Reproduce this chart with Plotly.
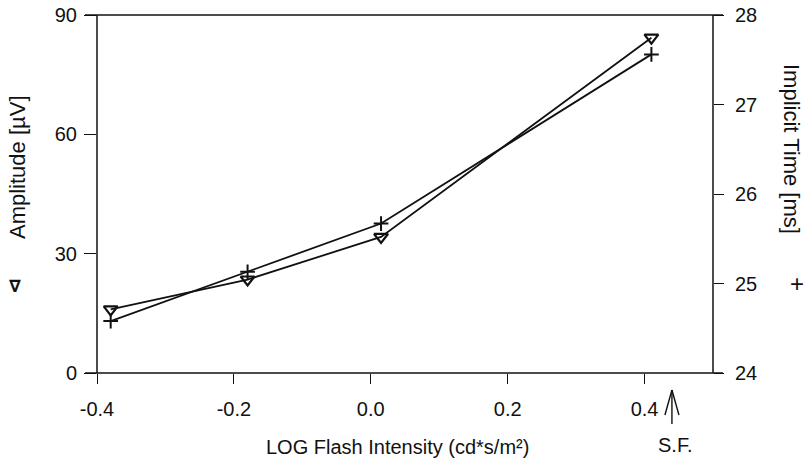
import plotly.graph_objects as go

# ---- data ----
log_intensity = [-0.38, -0.18, 0.015, 0.41]
amplitude_uv = [16.0, 23.5, 34.2, 84.3]
implicit_time_ms = [24.58, 25.13, 25.67, 27.56]

x_ticks = [-0.4, -0.2, 0.0, 0.2, 0.4]
x_tick_labels = ["-0.4", "-0.2", "0.0", "0.2", "0.4"]
amp_ticks = [0, 30, 60, 90]
time_ticks = [24, 25, 26, 27, 28]
sf_x = 0.44

W, H = 810, 461
L, R, T, B = 97, 97, 15, 88
pw, ph = W - L - R, H - T - B

def px(xp):
    return (xp - L) / pw

def py(yp):
    return (H - B - yp) / ph

FONT = "Liberation Sans, Arial, sans-serif"
INK = "#111111"

fig = go.Figure()
fig.add_trace(go.Scatter(
    x=log_intensity, y=amplitude_uv, mode="lines+markers",
    line=dict(color=INK, width=1.8),
    marker=dict(symbol="triangle-down-open", size=12, color=INK, line=dict(width=2.2, color=INK)),
    showlegend=False, yaxis="y", cliponaxis=False))
fig.add_trace(go.Scatter(
    x=log_intensity, y=implicit_time_ms, mode="lines+markers",
    line=dict(color=INK, width=1.8),
    marker=dict(symbol="cross-thin-open", size=10.5, color=INK, line=dict(width=2, color=INK)),
    showlegend=False, yaxis="y2", cliponaxis=False))

tickfont = dict(family=FONT, size=20, color=INK)
fig.update_layout(
    width=W, height=H,
    margin=dict(l=L, r=R, t=T, b=B, autoexpand=False),
    paper_bgcolor="white", plot_bgcolor="white",
    xaxis=dict(range=[-0.4, 0.5], tickvals=x_ticks, ticktext=x_tick_labels,
               showgrid=False, zeroline=False, showline=False, automargin=False,
               ticks="outside", ticklen=10, tickwidth=1.4, tickcolor=INK,
               tickfont=tickfont, ticklabelstandoff=8),
    yaxis=dict(range=[0, 90], tickvals=amp_ticks, showgrid=False, zeroline=False,
               showline=False, automargin=False,
               ticks="outside", ticklen=12, tickwidth=1.4, tickcolor=INK,
               tickfont=tickfont, ticklabelstandoff=3),
    yaxis2=dict(range=[24, 28], tickvals=time_ticks, overlaying="y", side="right",
                showgrid=False, zeroline=False, showline=False, automargin=False,
                ticks="outside", ticklen=10, tickwidth=1.4, tickcolor=INK,
                tickfont=tickfont, ticklabelstandoff=7),
)

lw = 1.5
shapes = [
    dict(type="line", xref="paper", yref="paper", x0=px(85), x1=px(723), y0=0, y1=0,
         line=dict(color=INK, width=lw)),
    dict(type="line", xref="paper", yref="paper", x0=px(85), x1=px(723), y0=1, y1=1,
         line=dict(color=INK, width=lw)),
    dict(type="line", xref="paper", yref="paper", x0=0, x1=0, y0=0, y1=1,
         line=dict(color=INK, width=lw)),
    dict(type="line", xref="paper", yref="paper", x0=1, x1=1, y0=0, y1=1,
         line=dict(color=INK, width=lw)),
]
dx = 7 / (pw / 0.9)
shapes += [
    dict(type="line", xref="x", yref="paper", x0=sf_x, x1=sf_x, y0=py(424), y1=py(390),
         line=dict(color=INK, width=1.4)),
    dict(type="line", xref="x", yref="paper", x0=sf_x, x1=sf_x - dx, y0=py(390), y1=py(415),
         line=dict(color=INK, width=1.4)),
    dict(type="line", xref="x", yref="paper", x0=sf_x, x1=sf_x + dx, y0=py(390), y1=py(415),
         line=dict(color=INK, width=1.4)),
]
fig.update_layout(shapes=shapes)

tf = dict(family=FONT, size=20, color=INK)
tfv = dict(family=FONT, size=22, color=INK)
ann = [
    dict(text="LOG Flash Intensity (cd*s/m²)", xref="paper", yref="paper",
         x=px(397), y=py(447), showarrow=False, font=tf, xanchor="center", yanchor="middle"),
    dict(text="Amplitude [µV]", xref="paper", yref="paper", x=px(17), y=py(167),
         showarrow=False, font=tfv, textangle=-90, xanchor="center", yanchor="middle"),
    dict(text="<b>∇</b>", xref="paper", yref="paper", x=px(15), y=py(286),
         showarrow=False, font=dict(family="DejaVu Sans", size=17, color=INK),
         xanchor="center", yanchor="middle"),
    dict(text="Implicit Time [ms]", xref="paper", yref="paper", x=px(792), y=py(149),
         showarrow=False, font=tfv, textangle=90, xanchor="center", yanchor="middle"),
    dict(text="+", xref="paper", yref="paper", x=px(797), y=py(283),
         showarrow=False, font=dict(family=FONT, size=24, color=INK),
         xanchor="center", yanchor="middle"),
    dict(text="S.F.", xref="x", yref="paper", x=sf_x, y=py(445), xshift=3,
         showarrow=False, font=tf, xanchor="center", yanchor="middle"),
]
fig.update_layout(annotations=ann)

fig.write_html("out.html", config={"displayModeBar": False},
               post_script="document.body.style.margin='0px';document.body.style.overflow='hidden';")
